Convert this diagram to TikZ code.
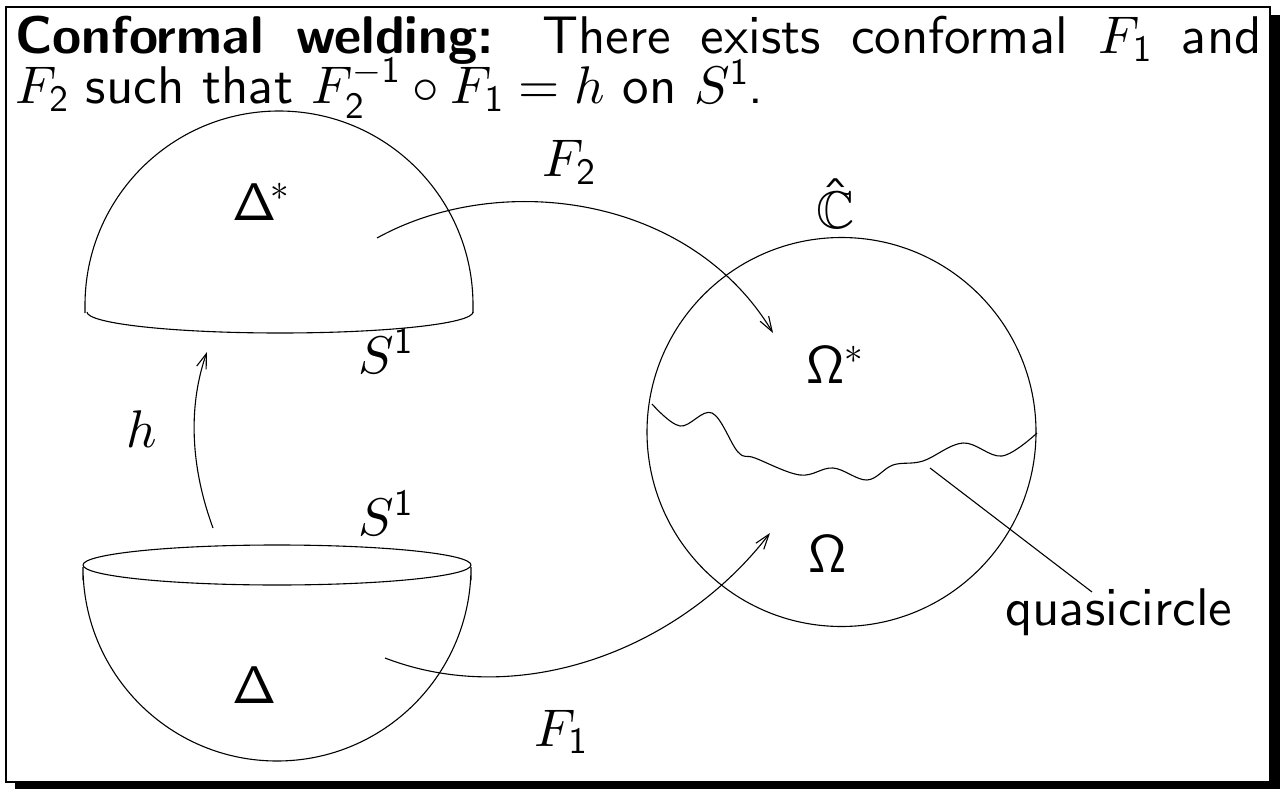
\documentclass[tikz,border=0pt]{standalone}
\usepackage{amssymb}
\usetikzlibrary{arrows.meta}
\DeclareFontFamily{OT1}{mycmss}{}
\DeclareFontShape{OT1}{mycmss}{m}{n}{<->cmss10}{}
\DeclareFontShape{OT1}{mycmss}{bx}{n}{<->cmssbx10}{}
\DeclareFontShape{OT1}{mycmss}{b}{n}{<->ssub*mycmss/bx/n}{}
\DeclareFontFamily{OML}{mycmm}{\skewchar\font127 }
\DeclareFontShape{OML}{mycmm}{m}{it}{<->cmmi10}{}
\DeclareFontFamily{OMS}{mycmsy}{\skewchar\font48 }
\DeclareFontShape{OMS}{mycmsy}{m}{n}{<->cmsy10}{}
\DeclareFontFamily{OMX}{mycmex}{}
\DeclareFontShape{OMX}{mycmex}{m}{n}{<->cmex10}{}
\DeclareSymbolFont{operators}{OT1}{mycmss}{m}{n}
\DeclareSymbolFont{letters}{OML}{mycmm}{m}{it}
\DeclareSymbolFont{symbols}{OMS}{mycmsy}{m}{n}
\DeclareSymbolFont{largesymbols}{OMX}{mycmex}{m}{n}
\newcommand\slidefont{\fontencoding{OT1}\fontfamily{mycmss}\fontseries{m}\fontshape{n}\fontsize{53}{50}\selectfont}
\begin{document}
\begin{tikzpicture}[x=1pt,y=-1pt,
  every node/.style={inner sep=0pt, font=\slidefont},
  lbl/.style={anchor=base west},
  line/.style={line width=1.1pt},
  arr/.style={line width=1.1pt, -{Straight Barb[length=15pt,width=10pt,line width=1.1pt]}}]
\useasboundingbox (0,0) rectangle (1280,789);
% frame with shadow
\fill[black] (1271,15) rectangle (1280,789);
\fill[black] (15,783) rectangle (1280,789);
\draw[line width=2.2pt] (6,7) rectangle (1270,782);
% title
\node[anchor=base west] (title) at (15,54) {\parbox[t]{1247pt}{\slidefont\lineskiplimit=-100pt
 \textbf{Conformal welding:} There exists conformal $F_1$ and\linebreak
 $F_2$ such that $F_2^{-1}\circ F_1=h$ on $S^1$.}};
% upper hemisphere
\draw[line] (85,313) -- (85,305) arc[start angle=180,end angle=360,radius=194] -- (473,313);
\draw[line] (87,312) arc[start angle=180,end angle=0,x radius=193,y radius=21];
% lower hemisphere
\draw[line] (277,565) ellipse[x radius=194,y radius=20];
\draw[line] (83,580) -- (83,567) arc[start angle=180,end angle=0,radius=194] -- (471,580);
% sphere
\draw[line] (841.5,432) circle[radius=194.5];
% quasicircle
\draw[line] plot[smooth,tension=0.6] coordinates {(652,404) (680,426) (712,413) (738,452) (755,458) (800,475) (833,468) (867,480) (893,465) (923,461) (963,443) (1002,456) (1037,433)};
% labels
\node[lbl] (dstar) at (232,220) {$\Delta^{\!*}$};
\node[lbl] (f2) at (542,177) {$F_2$};
\node[lbl] (chat) at (816,228) {$\hat{\mathbb{C}}$};
\node[lbl] (ostar) at (806,383) {$\Omega^{*}$};
\node[lbl] (s1a) at (358,373) {$S^1$};
\node[lbl] (h) at (126,447) {$h$};
\node[lbl] (s1b) at (358,535) {$S^1$};
\node[lbl] (om) at (808,572) {$\Omega$};
\node[lbl] (del) at (232,703) {$\Delta$};
\node[lbl] (f1) at (534,746) {$F_1$};
\node[lbl] (qc) at (1005,625) {quasicircle};
% arrows
\coordinate (a2s) at (377,238);
\coordinate (a2e) at (773,333);
\coordinate (a1s) at (385,658);
\coordinate (a1e) at (770,533);
\coordinate (hs) at (213,528);
\coordinate (he) at (207,352);
\coordinate (ps) at (930,468);
\coordinate (pe) at (1092,592);
\draw[arr] (a2s) .. controls (500,170) and (690,195) .. (a2e);
\draw[arr] (a1s) .. controls (520,710) and (680,650) .. (a1e);
\draw[arr] (hs) .. controls (188,460) and (190,400) .. (he);
\draw[line] (ps) -- (pe);
\end{tikzpicture}
\end{document}
